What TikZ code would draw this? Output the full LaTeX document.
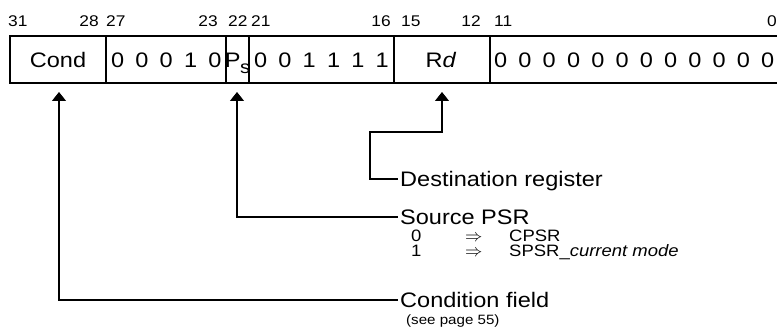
\documentclass[tikz,border=0pt]{standalone}
\usepackage{fontspec}
\setmainfont{Liberation Sans}[FakeStretch=1.12]
\usetikzlibrary{arrows.meta}
\newcommand{\bitgap}{\hspace{11.2pt}}
\begin{document}
\begin{tikzpicture}[x=1pt,y=-1pt,
  big/.style={font=\fontsize{21}{25}\selectfont},
  small/.style={font=\fontsize{15.5}{18}\selectfont},
  mid/.style={font=\fontsize{16.5}{18}\selectfont},
  tiny/.style={font=\fontsize{13.5}{16}\selectfont},
  bitno/.style={small, inner sep=0pt},
  fieldtxt/.style={big, inner sep=0pt, anchor=base west},
  lbl/.style={big, anchor=west, inner xsep=2pt, inner ysep=0pt,
              text height=15pt, text depth=0pt},
  note/.style={mid, inner sep=0pt, anchor=base west},
  frame/.style={line width=2.3pt},
  conn/.style={line width=1.1pt},
  tip/.style={conn, {Triangle[width=14pt,length=9pt]}-}
]
\useasboundingbox (0,0) rectangle (777,336);

% instruction word frame and field dividers
\begin{scope}
  \clip (0,0) rectangle (777,336);
  \draw[frame] (10,36) rectangle (790,83);
\end{scope}
\foreach \x in {106,226,249,394,490}
  \draw[frame] (\x,36) -- (\x,83);

% bit numbers
\node[bitno, anchor=base west] (b31) at (8,27) {31};
\node[bitno, anchor=base east] (b28) at (99,27) {28};
\node[bitno, anchor=base west] (b27) at (106,27) {27};
\node[bitno, anchor=base east] (b23) at (218,27) {23};
\node[bitno, anchor=base west] (b22) at (228,27) {22};
\node[bitno, anchor=base west] (b21) at (251,27) {21};
\node[bitno, anchor=base east] (b16) at (391,27) {16};
\node[bitno, anchor=base west] (b15) at (401,27) {15};
\node[bitno, anchor=base east] (b12) at (481,27) {12};
\node[bitno, anchor=base west] (b11) at (494,27) {11};
\node[bitno, anchor=base east] (b0) at (777,27) {0};

% field contents
\node[big, inner sep=0pt, anchor=base] (cond) at (58,68) {Cond};
\node[fieldtxt] (fa) at (111,68) {0\bitgap0\bitgap0\bitgap1\bitgap0};
\node[big, inner sep=0pt, anchor=base] (ps) at (237.5,68)
  {P\kern-0.5pt\raisebox{-6pt}{\fontsize{18}{18}\selectfont s}};
\node[fieldtxt] (fb) at (254,68) {0\bitgap0\bitgap1\bitgap1\bitgap1\bitgap1};
\node[big, inner sep=0pt, anchor=base] (rd) at (441,68) {R\textit{d}};
\node[fieldtxt] (fc) at (494,68)
  {0\bitgap0\bitgap0\bitgap0\bitgap0\bitgap0\bitgap0\bitgap0\bitgap0\bitgap0\bitgap0\bitgap0};

% explanation labels
\node[lbl] (dest) at (398,179) {Destination register};
\node[lbl] (src) at (398,217) {Source PSR};
\node[lbl] (condf) at (398,300) {Condition field};

\node[note] (s0) at (411,242) {0};
\node[note] (s0a) at (465,242) {$\Rightarrow$};
\node[note] (s0b) at (509,242) {CPSR};
\node[note] (s1) at (411,257) {1};
\node[note] (s1a) at (465,257) {$\Rightarrow$};
\node[note] (s1b) at (509,257) {SPSR\_\textit{current mode}};
\node[note, tiny] (see) at (406,325) {(see page 55)};

% pointers from fields to labels
\coordinate (pcond) at (59,92);
\coordinate (pps) at (237,92);
\coordinate (prd) at (442,92);
\coordinate (bend) at (370,132);

\draw[tip] (prd) |- (bend) |- (dest.west);
\draw[tip] (pps) |- (src.west);
\draw[tip] (pcond) |- (condf.west);
\end{tikzpicture}
\end{document}
